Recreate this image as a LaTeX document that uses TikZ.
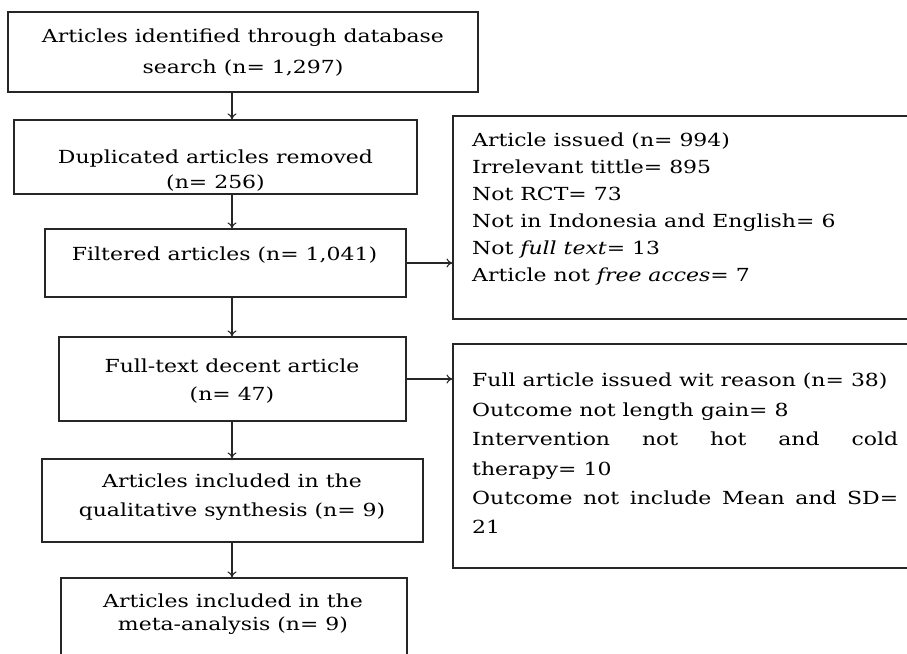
\documentclass[tikz,border=0pt]{standalone}
\usepackage{fontspec}
\setmainfont{DejaVu Serif}[FakeStretch=1.22]
\usetikzlibrary{arrows.meta}
\begin{document}
\begin{tikzpicture}[x=1pt,y=-1pt,
  box/.style={draw=black!85, line width=1.2pt, rectangle, inner sep=0pt},
  txt/.style={align=center, inner sep=0pt},
  conn/.style={draw=black!85, line width=1.1pt, -{To[length=6pt,width=9pt]}},
]
\useasboundingbox (0,0) rectangle (907,653);
\clip (0,0) rectangle (907,653);
% left column boxes
\node[box, minimum width=470pt, minimum height=80pt] (b1) at (243,52) {};
\node[box, minimum width=403pt, minimum height=74pt] (b2) at (215.5,157) {};
\node[box, minimum width=361pt, minimum height=68pt] (b3) at (225.5,263) {};
\node[box, minimum width=347pt, minimum height=84pt] (b4) at (232.5,379) {};
\node[box, minimum width=381pt, minimum height=83pt] (b5) at (232.5,500.5) {};
\node[box, minimum width=346pt, minimum height=87pt] (b6) at (234,621.5) {};
% right boxes
\node[box, minimum width=462pt, minimum height=203pt] (r1) at (684,217.5) {};
\node[box, minimum width=462pt, minimum height=224pt] (r2) at (684,456) {};
% texts
\node[txt, font=\fontsize{18}{31}\selectfont] (t1) at (243,52.5) {Articles identified through database\\search (n= 1,297)};
\node[txt, font=\fontsize{18}{25}\selectfont] (t2) at (215.5,170.5) {Duplicated articles removed\\(n= 256)};
\node[txt, font=\fontsize{18}{25}\selectfont] (t3) at (224.5,255) {Filtered articles (n= 1,041)};
\node[txt, font=\fontsize{18}{28}\selectfont] (t4) at (232,381) {Full-text decent article\\(n= 47)};
\node[txt, font=\fontsize{18}{29}\selectfont] (t5) at (232,497.5) {Articles included in the\\qualitative synthesis (n= 9)};
\node[txt, font=\fontsize{18}{23}\selectfont] (t6) at (233,614) {Articles included in the\\meta-analysis (n= 9)};
\node[txt, align=left, anchor=west, font=\fontsize{18}{27}\selectfont] (rt1) at (472,209.5) {Article issued (n= 994)\\Irrelevant tittle= 895\\Not RCT= 73\\Not in Indonesia and English= 6\\Not \textit{full text}= 13\\Article not \textit{free acces}= 7};
\node[txt, align=justify, text width=426pt, anchor=west, font=\fontsize{18}{29.4}\selectfont] (rt2) at (472,453.5) {Full article issued wit reason (n= 38)\\Outcome not length gain= 8\\Intervention not hot and cold \mbox{therapy=}~10\\Outcome not include Mean and SD= 21};
% connectors
\coordinate (ax) at (232,0);
\draw[conn] (b1.south -| ax) -- (b2.north -| ax);
\draw[conn] (b2.south -| ax) -- (b3.north -| ax);
\draw[conn] (b3.south -| ax) -- (b4.north -| ax);
\draw[conn] (b4.south -| ax) -- (b5.north -| ax);
\draw[conn] (b5.south -| ax) -- (b6.north -| ax);
\draw[conn] (b3.east) -- (b3.east -| r1.west);
\draw[conn] (b4.east) -- (b4.east -| r2.west);
\end{tikzpicture}
\end{document}
